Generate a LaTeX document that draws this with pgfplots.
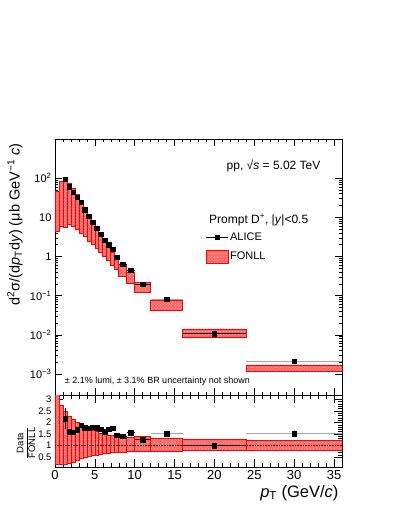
\documentclass[border=0pt]{standalone}
\usepackage{fontspec}
\setmainfont{Liberation Sans}
\usepackage{pgfplots}
\usepackage{pgfplotstable}
\pgfplotsset{compat=1.18}
\usetikzlibrary{patterns}

% FONLL prediction, top panel: bin edges and band limits
\pgfplotstableread{
xl xh lo hi
0 0.5 4.5 45
0.5 1 5.8 84
1 1.5 5.5 90
1.5 2 6.5 72
2 2.5 6.0 54
2.5 3 5.0 39
3 3.5 4.0 25
3.5 4 3.2 16.5
4 4.5 2.5 11
4.5 5 2.0 7.2
5 5.5 1.6 4.9
5.5 6 1.25 3.4
6 6.5 1.0 2.45
6.5 7 0.78 1.75
7 7.5 0.60 1.24
7.5 8 0.48 0.94
8 9 0.32 0.64
9 10 0.20 0.39
10 12 0.118 0.217
12 16 0.042 0.074
16 24 0.0085 0.0141
24 36 0.00115 0.0017
}\fonlltop

% FONLL band relative to its central value
\pgfplotstableread{
xl xh lo hi
0 0.5 0.18 3.5
0.5 1 0.17 2.76
1 1.5 0.18 2.5
1.5 2 0.22 2.28
2 2.5 0.29 2.13
2.5 3 0.37 2.01
3 3.5 0.43 1.87
3.5 4 0.49 1.79
4 4.5 0.52 1.72
4.5 5 0.56 1.65
5 5.5 0.59 1.60
5.5 6 0.62 1.54
6 6.5 0.65 1.50
6.5 7 0.66 1.46
7 7.5 0.69 1.43
7.5 8 0.71 1.40
8 9 0.72 1.38
9 10 0.74 1.36
10 12 0.76 1.38
12 16 0.76 1.31
16 24 0.79 1.25
24 36 0.81 1.24
}\fonllratio

% ALICE prompt D+ cross section
\pgfplotstableread{
x y ex ey
1.25 94 0.25 14
1.75 60 0.25 4
2.25 44 0.25 2.5
2.75 33 0.25 1.8
3.25 24 0.25 1.2
3.75 15.5 0.25 0.8
4.25 10.5 0.25 0.5
4.75 7.6 0.25 0.4
5.25 5.3 0.25 0.25
5.75 3.7 0.25 0.18
6.25 2.6 0.25 0.13
6.75 2.0 0.25 0.1
7.25 1.52 0.25 0.08
7.75 0.96 0.25 0.05
8.5 0.64 0.5 0.03
9.5 0.44 0.5 0.025
11 0.195 1 0.01
20 0.0107 4 0.0006
}\alice

\pgfplotstableread{
x y ex ey
14 0.082 2 0.005
30 0.0021 6 0.0002
}\alicegrey

% ALICE / FONLL
\pgfplotstableread{
x y ex ey
1.25 2.16 0.25 0.45
1.75 1.60 0.25 0.08
2.25 1.57 0.25 0.06
2.75 1.68 0.25 0.06
3.25 1.87 0.25 0.06
3.75 1.77 0.25 0.05
4.25 1.75 0.25 0.05
4.75 1.80 0.25 0.05
5.25 1.77 0.25 0.05
5.75 1.72 0.25 0.05
6.25 1.60 0.25 0.05
6.75 1.70 0.25 0.05
7.25 1.75 0.25 0.06
7.75 1.44 0.25 0.06
8.5 1.41 0.5 0.05
9.5 1.56 0.5 0.06
11 1.26 1 0.06
20 1.00 4 0.05
}\ratio

\pgfplotstableread{
x y ex ey
14 1.51 2 0.08
30 1.51 6 0.15
}\ratiogrey

\tikzset{fonll/.style={draw=red, line width=0.7pt, fill=red!60,
  postaction={pattern=crosshatch dots, pattern color=white!70!red}}}

\newcommand\fonllboxes[1]{%
  \pgfplotstablegetrowsof{#1}\pgfmathtruncatemacro\nlast{\pgfplotsretval-1}%
  \pgfplotsforeachungrouped \i in {0,...,\nlast}{%
    \pgfplotstablegetelem{\i}{xl}\of#1\let\xl\pgfplotsretval
    \pgfplotstablegetelem{\i}{xh}\of#1\let\xh\pgfplotsretval
    \pgfplotstablegetelem{\i}{lo}\of#1\let\lo\pgfplotsretval
    \pgfplotstablegetelem{\i}{hi}\of#1\let\hi\pgfplotsretval
    \edef\doplot{\noexpand\addplot[fonll, forget plot] coordinates {(\xl,\lo) (\xh,\lo) (\xh,\hi) (\xl,\hi)} --cycle;}%
    \doplot
  }%
}

\pgfplotsset{
  rootstyle/.style={
    scale only axis, width=287pt,
    xmin=0, xmax=36,
    axis line style={line width=0.6pt},
    every tick/.style={black, line width=0.5pt},
    tick align=inside,
    xtick={0,5,...,35}, minor x tick num=4,
    clip=true,
  },
  datapts/.style={only marks, mark=square*, mark size=2.2pt, black, forget plot,
    error bars/x dir=both, error bars/x explicit,
    error bars/y dir=both, error bars/y explicit,
    error bars/error mark=none,
    error bars/error bar style={line width=0.7pt}},
  greybars/.style={error bars/error bar style={gray!70, line width=0.9pt}},
}

\begin{document}
\begin{tikzpicture}
\path[use as bounding box] (-55pt,-121pt) rectangle (344pt,395pt);

\begin{axis}[rootstyle,
  at={(0pt,0pt)}, anchor=south west,
  height=256pt,
  ymode=log, ymin=2.9e-4, ymax=1000,
  xticklabels=\empty,
  major tick length=7pt, minor tick length=3.5pt,
  ytick={1e-3,1e-2,0.1,1,10,100},
  yticklabels={10\textsuperscript{−3},10\textsuperscript{−2},10\textsuperscript{−1},1,10,10\textsuperscript{2}},
  yticklabel style={font=\fontsize{11}{12}\selectfont},
  legend style={at={(0.525,0.64)}, anchor=north west, draw=none, fill=none,
    font=\fontsize{11}{13}\selectfont, row sep=6pt, inner sep=0pt,
    nodes={inner sep=1.5pt}},
  legend cell align=left,
]
\fonllboxes{\fonlltop}
\addplot[datapts] table[x=x, y=y, x error=ex, y error=ey]{\alice};
\addplot[datapts, greybars] table[x=x, y=y, x error=ex, y error=ey]{\alicegrey};
\addlegendimage{legend image code/.code={\draw[black, line width=0.7pt] (0pt,0pt) -- (22pt,0pt); \fill[black] (9pt,-2pt) rectangle (13pt,2pt);}}
\addlegendentry{ALICE}
\addlegendimage{legend image code/.code={\draw[fonll] (0pt,-6.5pt) rectangle (22pt,6.5pt);}}
\addlegendentry{FONLL}

\node[anchor=east, font=\fontsize{12}{14}\selectfont] at (rel axis cs:0.937,0.894) {pp, √\textit{s} = 5.02 TeV};
\node[anchor=west, font=\fontsize{12}{14}\selectfont] at (rel axis cs:0.525,0.684) {Prompt D\textsuperscript{+}, |\textit{y}|<0.5};
\node[anchor=west, font=\fontsize{9}{11}\selectfont] at (rel axis cs:0.022,0.055) {± 2.1\% lumi, ± 3.1\% BR uncertainty not shown};
\end{axis}

\begin{axis}[rootstyle,
  at={(0pt,0pt)}, anchor=north west,
  height=72pt,
  ymin=0.07, ymax=3.19,
  major tick length=8pt, minor tick length=4pt,
  xticklabels={0,5,10,15,20,25,30,35},
  xticklabel style={font=\fontsize{13}{14}\selectfont},
  ytick={0.5,1,1.5,2,2.5,3}, minor y tick num=4,
  yticklabels={0.5,1,1.5,2,2.5,3},
  yticklabel style={font=\fontsize{9.5}{11}\selectfont},
]
\fonllboxes{\fonllratio}
\addplot[black, densely dotted, line width=0.6pt] coordinates {(0,1) (36,1)};
\addplot[datapts] table[x=x, y=y, x error=ex, y error=ey]{\ratio};
\addplot[datapts, greybars] table[x=x, y=y, x error=ex, y error=ey]{\ratiogrey};
\end{axis}

\node[rotate=90, anchor=east, font=\fontsize{14.5}{17}\selectfont] at (-40pt,255pt)
  {d\textsuperscript{2}σ/(d\textit{p}\textsubscript{T}d\textit{y}) (μb GeV\textsuperscript{−1} \textit{c})};
\node[rotate=90, font=\fontsize{9.5}{11}\selectfont] at (-29pt,-48pt)
  {$\displaystyle\frac{\mbox{Data}}{\mbox{FONLL}}$};
\node[anchor=base east, font=\fontsize{16.5}{18}\selectfont] at (287pt,-102pt)
  {\textit{p}\textsubscript{T} (GeV/\textit{c})};
\end{tikzpicture}
\end{document}
